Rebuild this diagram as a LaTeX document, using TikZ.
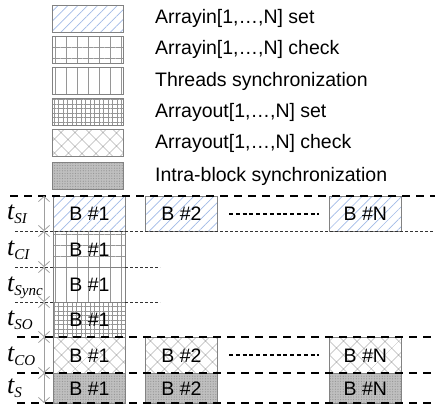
\documentclass[tikz,border=0pt]{standalone}
\usepackage{fontspec}
\setmainfont{Liberation Sans}
\newfontfamily\tfont{Liberation Serif}
\usetikzlibrary{patterns.meta,arrows.meta}
\definecolor{hatchblue}{RGB}{160,185,230}
\definecolor{bordergray}{RGB}{130,130,130}
\definecolor{patgray}{RGB}{150,150,150}
\begin{document}
\begin{tikzpicture}[x=1pt,y=-1pt,
  txt/.style={font=\fontsize{19.5}{21}\selectfont},
  blk/.style={draw=bordergray, line width=0.8pt, minimum width=72pt, inner sep=0pt, anchor=north west, txt},
  psi/.style={pattern={Lines[angle=45,distance=7pt,line width=0.7pt]}, pattern color=hatchblue},
  pci/.style={pattern={Hatch[angle=0,distance=11pt,line width=0.8pt]}, pattern color=patgray},
  psync/.style={pattern={Lines[angle=90,distance=11pt,line width=0.8pt]}, pattern color=patgray},
  pso/.style={pattern={Hatch[angle=0,distance=4.5pt,line width=0.6pt]}, pattern color=patgray},
  pco/.style={pattern={Hatch[angle=45,distance=10.5pt,line width=0.6pt]}, pattern color=patgray},
  ps/.style={preaction={fill=gray!50}, pattern={Dots[radius=0.6pt,distance=2.6pt]}, pattern color=gray!85},
  leg/.style={draw=bordergray, line width=0.8pt, minimum width=71pt, minimum height=27pt, inner sep=0pt, anchor=north west},
  legtxt/.style={txt, anchor=west, inner sep=0pt},
  tlab/.style={anchor=base west, inner sep=0pt},
  tt/.style={font=\tfont\itshape\fontsize{26}{28}\selectfont},
  thickdash/.style={line width=1.1pt, dash pattern=on 8pt off 6pt},
  thindash/.style={line width=0.6pt, dash pattern=on 3pt off 2pt, black!80},
  dots/.style={line width=2pt, dash pattern=on 4pt off 2.8pt},
  dim/.style={draw=gray!75, line width=0.8pt, {Straight Barb[length=5pt,width=11pt,line width=0.8pt]}-{Straight Barb[length=5pt,width=11pt,line width=0.8pt]}}
]
\useasboundingbox (0,0) rectangle (435,410);

% legend
\node[leg,psi]   (l1) at (52,5)   {};
\node[leg,pci]   (l2) at (52,36)  {};
\node[leg,psync] (l3) at (52,67)  {};
\node[leg,pso]   (l4) at (52,98)  {};
\node[leg,pco]   (l5) at (52,129) {};
\node[leg,ps]    (l6) at (52,162) {};
\node[legtxt] (t1) at (155,18.5)  {Arrayin[1,…,N] set};
\node[legtxt] (t2) at (155,49.5)  {Arrayin[1,…,N] check};
\node[legtxt] (t3) at (155,81)    {Threads synchronization};
\node[legtxt] (t4) at (155,112)   {Arrayout[1,…,N] set};
\node[legtxt] (t5) at (155,143.5) {Arrayout[1,…,N] check};
\node[legtxt] (t6) at (155,176)   {Intra-block synchronization};

% blocks
\node[blk,psi,minimum height=35pt]   (si1) at (53,196) {B \#1};
\node[blk,psi,minimum height=35pt]   (si2) at (145,196) {B \#2};
\node[blk,psi,minimum height=35pt]   (siN) at (329,196) {B \#N};
\node[blk,pci,minimum height=36pt]   (ci1) at (53,231) {B \#1};
\node[blk,psync,minimum height=35pt] (sy1) at (53,267) {B \#1};
\node[blk,pso,minimum height=35pt]   (so1) at (53,302) {B \#1};
\node[blk,pco,minimum height=36pt]   (co1) at (53,337) {B \#1};
\node[blk,pco,minimum height=36pt]   (co2) at (145,337) {B \#2};
\node[blk,pco,minimum height=36pt]   (coN) at (329,337) {B \#N};
\node[blk,ps,minimum height=30pt]    (s1) at (53,373) {B \#1};
\node[blk,ps,minimum height=30pt]    (s2) at (145,373) {B \#2};
\node[blk,ps,minimum height=30pt]    (sN) at (329,373) {B \#N};

% dotted separators
\draw[dots] (229,214) -- (319,214);
\draw[dots] (229,355) -- (319,355);

% thin dashed lines
\draw[thindash] (15,231) -- (435,231);
\draw[thindash] (15,267) -- (53,267);
\draw[thindash] (125,267) -- (160,267);
\draw[thindash] (15,302) -- (53,302);
\draw[thindash] (125,302) -- (160,302);

% thick dashed lines
\draw[thickdash] (10,196) -- (435,196);
\draw[thickdash] (17,337) -- (435,337);
\draw[thickdash] (17,373) -- (435,373);
\draw[thickdash] (17,403) -- (435,403);

% dimension arrows
\foreach \a/\b in {196/231,231/267,267/302,302/337,337/373,373/403}
  \draw[dim] (44,\a) -- (44,\b);

% time labels
\node[tlab,tt] (lsi) at (7,219) {t\raisebox{-4pt}{\fontsize{15}{16}\selectfont SI}};
\node[tlab,tt] (lci) at (7,255) {t\raisebox{-4pt}{\fontsize{15}{16}\selectfont CI}};
\node[tlab,tt] (lsy) at (7,291) {t\raisebox{-4pt}{\fontsize{15}{16}\selectfont Sync}};
\node[tlab,tt] (lso) at (7,325) {t\raisebox{-4pt}{\fontsize{15}{16}\selectfont SO}};
\node[tlab,tt] (lco) at (7,361) {t\raisebox{-4pt}{\fontsize{15}{16}\selectfont CO}};
\node[tlab,tt] (ls)  at (7,393) {t\raisebox{-4pt}{\fontsize{15}{16}\selectfont S}};
\end{tikzpicture}
\end{document}
